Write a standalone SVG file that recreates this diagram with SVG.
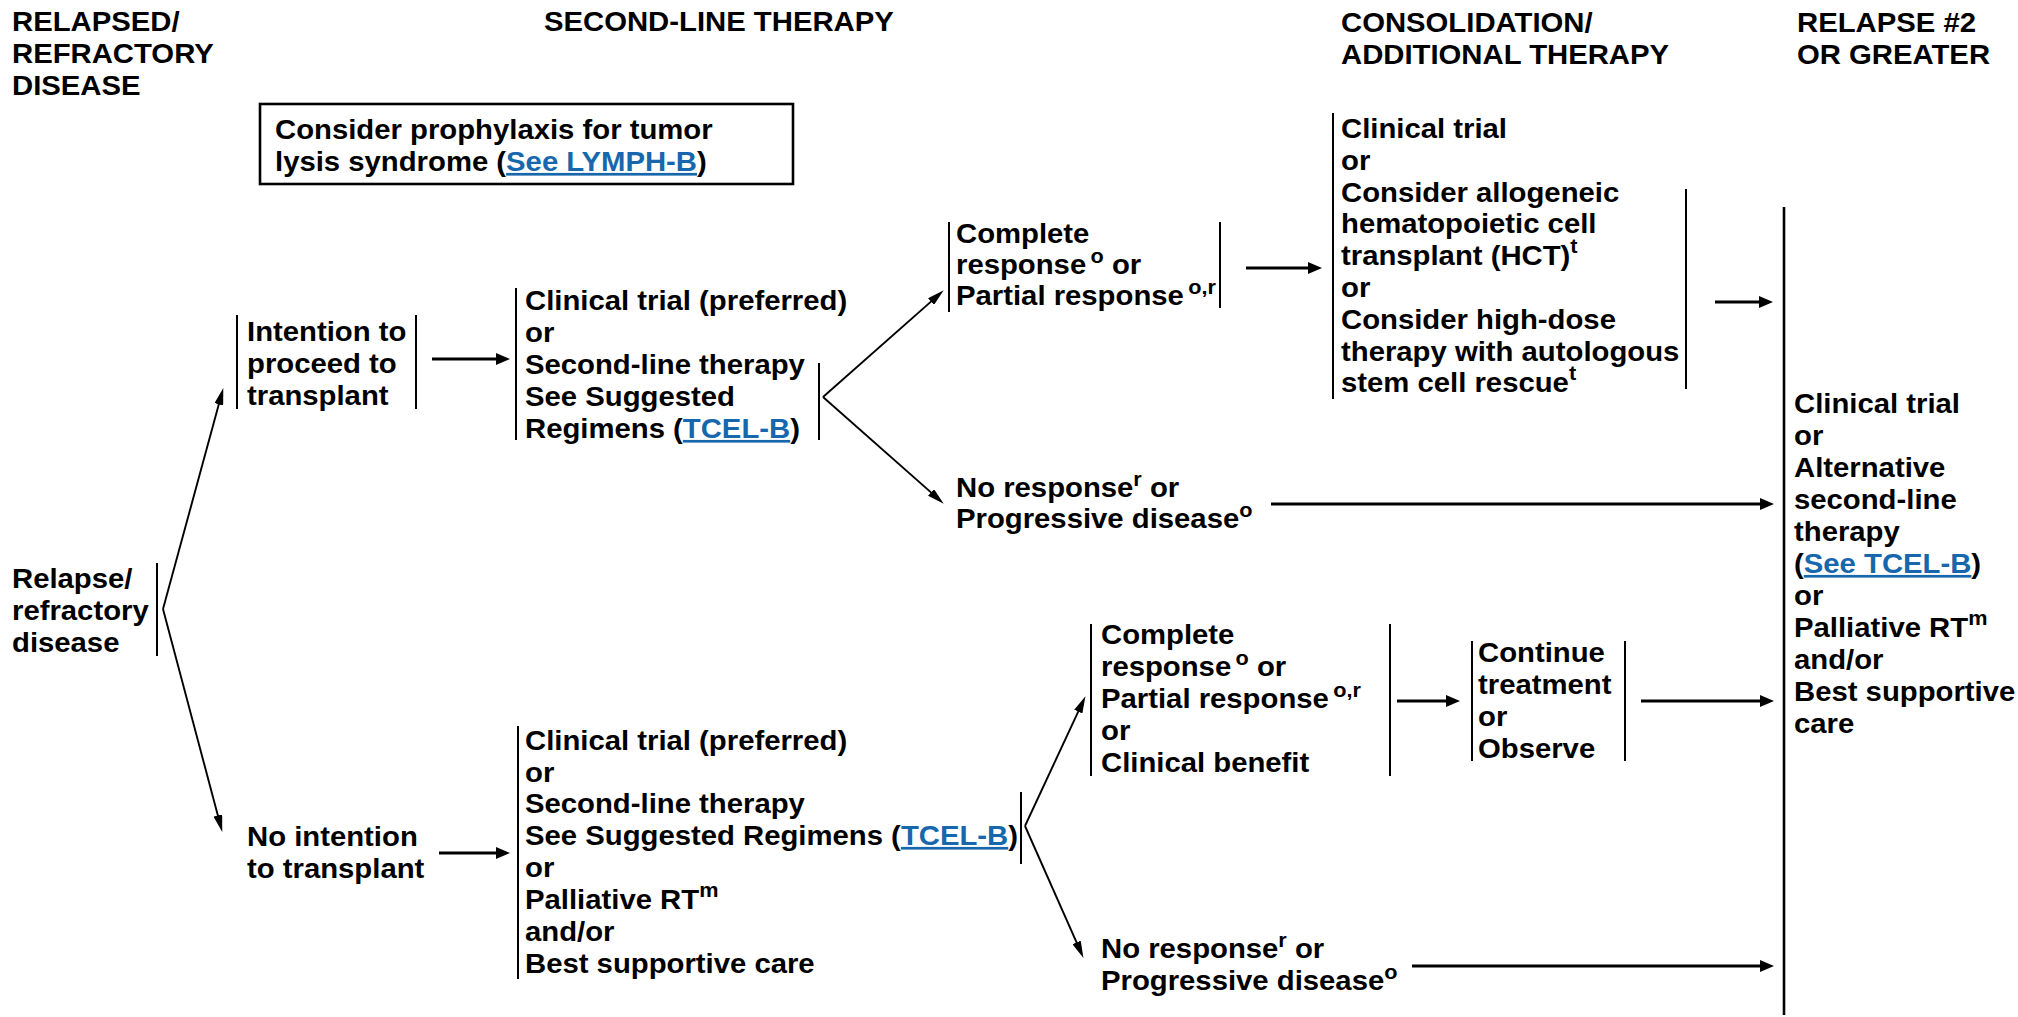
<svg xmlns="http://www.w3.org/2000/svg" width="2018" height="1017" viewBox="0 0 2018 1017">
<style>
text{font-family:"Liberation Sans",Arial,Helvetica,sans-serif;font-weight:bold;font-size:27px;fill:#000}
.sup{font-size:20px}
.lk{fill:#1767AC;text-decoration:underline}
.bar{stroke:#000;stroke-width:2;fill:none}
.bigbar{stroke:#000;stroke-width:2.6;fill:none}
.box{stroke:#000;stroke-width:2.6;fill:#fff}
.ah{stroke:#000;stroke-width:3;fill:none;marker-end:url(#mh)}
.ad{stroke:#000;stroke-width:1.9;fill:none;marker-end:url(#md)}
</style>
<defs>
<marker id="mh" markerUnits="userSpaceOnUse" markerWidth="14" markerHeight="12" refX="4" refY="6" orient="auto"><path d="M0,0 L14,6 L0,12 Z" fill="#000"/></marker>
<marker id="md" markerUnits="userSpaceOnUse" markerWidth="17" markerHeight="9" refX="6" refY="4.5" orient="auto"><path d="M0,0 L17,4.5 L0,9 Z" fill="#000"/></marker>
</defs>
<rect width="2018" height="1017" fill="#fff"/>

<g id="headers">
<text transform="translate(12 31) scale(1.085 1)"><tspan x="0" y="0">RELAPSED/</tspan><tspan x="0" y="32">REFRACTORY</tspan><tspan x="0" y="64">DISEASE</tspan></text>
<text transform="translate(544 31) scale(1.085 1)">SECOND-LINE THERAPY</text>
<text transform="translate(1341 32) scale(1.085 1)"><tspan x="0" y="0">CONSOLIDATION/</tspan><tspan x="0" y="32">ADDITIONAL THERAPY</tspan></text>
<text transform="translate(1797 32) scale(1.085 1)"><tspan x="0" y="0">RELAPSE #2</tspan><tspan x="0" y="32">OR GREATER</tspan></text>
</g>

<g id="n-tls">
<rect class="box" x="260" y="104" width="533" height="80"/>
<text transform="translate(275 139) scale(1.085 1)"><tspan x="0" y="0">Consider prophylaxis for tumor</tspan><tspan x="0" y="32">lysis syndrome (</tspan><tspan class="lk">See LYMPH-B</tspan><tspan>)</tspan></text>
</g>

<g id="n-relapse">
<line class="bar" x1="157" y1="563" x2="157" y2="656"/>
<text transform="translate(12 588) scale(1.085 1)"><tspan x="0" y="0">Relapse/</tspan><tspan x="0" y="32">refractory</tspan><tspan x="0" y="64">disease</tspan></text>
</g>

<g id="n-intent">
<line class="bar" x1="237" y1="315" x2="237" y2="409"/>
<line class="bar" x1="416" y1="315" x2="416" y2="409"/>
<text transform="translate(247 341) scale(1.085 1)"><tspan x="0" y="0">Intention to</tspan><tspan x="0" y="32">proceed to</tspan><tspan x="0" y="64">transplant</tspan></text>
</g>

<g id="n-noint">
<text transform="translate(247 846) scale(1.085 1)"><tspan x="0" y="0">No intention</tspan><tspan x="0" y="32">to transplant</tspan></text>
</g>

<g id="n-sl1">
<line class="bar" x1="516" y1="288" x2="516" y2="440"/>
<line class="bar" x1="819" y1="363" x2="819" y2="440"/>
<text transform="translate(525 310) scale(1.085 1)"><tspan x="0" y="0">Clinical trial (preferred)</tspan><tspan x="0" y="32">or</tspan><tspan x="0" y="64">Second-line therapy</tspan><tspan x="0" y="96">See Suggested</tspan><tspan x="0" y="128">Regimens (</tspan><tspan class="lk">TCEL-B</tspan><tspan>)</tspan></text>
</g>

<g id="n-sl2">
<line class="bar" x1="518" y1="726" x2="518" y2="979"/>
<line class="bar" x1="1021" y1="792" x2="1021" y2="864"/>
<text transform="translate(525 750) scale(1.085 1)"><tspan x="0" y="0">Clinical trial (preferred)</tspan><tspan x="0" y="32">or</tspan><tspan x="0" y="63">Second-line therapy</tspan><tspan x="0" y="95">See Suggested Regimens (</tspan><tspan class="lk">TCEL-B</tspan><tspan>)</tspan><tspan x="0" y="127">or</tspan><tspan x="0" y="159">Palliative RT</tspan><tspan class="sup" y="147">m</tspan><tspan x="0" y="191">and/or</tspan><tspan x="0" y="223">Best supportive care</tspan></text>
</g>

<g id="n-cr1">
<line class="bar" x1="949" y1="222" x2="949" y2="312"/>
<line class="bar" x1="1220" y1="222" x2="1220" y2="308"/>
<text transform="translate(956 243) scale(1.085 1)"><tspan x="0" y="0">Complete</tspan><tspan x="0" y="31">response</tspan><tspan class="sup" dx="4" y="20">o</tspan><tspan y="31"> or</tspan><tspan x="0" y="62">Partial response</tspan><tspan class="sup" dx="4" y="51">o,r</tspan></text>
</g>

<g id="n-nr1">
<text transform="translate(956 497) scale(1.085 1)"><tspan x="0" y="0">No response</tspan><tspan class="sup" y="-11">r</tspan><tspan y="0"> or</tspan><tspan x="0" y="31">Progressive disease</tspan><tspan class="sup" y="20">o</tspan></text>
</g>

<g id="n-consol">
<line class="bar" x1="1333" y1="113" x2="1333" y2="399"/>
<line class="bar" x1="1686" y1="189" x2="1686" y2="389"/>
<text transform="translate(1341 138) scale(1.085 1)"><tspan x="0" y="0">Clinical trial</tspan><tspan x="0" y="32">or</tspan><tspan x="0" y="64">Consider allogeneic</tspan><tspan x="0" y="95">hematopoietic cell</tspan><tspan x="0" y="127">transplant (HCT)</tspan><tspan class="sup" y="115">t</tspan><tspan x="0" y="159">or</tspan><tspan x="0" y="191">Consider high-dose</tspan><tspan x="0" y="223">therapy with autologous</tspan><tspan x="0" y="254">stem cell rescue</tspan><tspan class="sup" y="242">t</tspan></text>
</g>

<g id="n-cr2">
<line class="bar" x1="1091" y1="624" x2="1091" y2="776"/>
<line class="bar" x1="1390" y1="624" x2="1390" y2="776"/>
<text transform="translate(1101 644) scale(1.085 1)"><tspan x="0" y="0">Complete</tspan><tspan x="0" y="32">response</tspan><tspan class="sup" dx="4" y="21">o</tspan><tspan y="32"> or</tspan><tspan x="0" y="64">Partial response</tspan><tspan class="sup" dx="4" y="53">o,r</tspan><tspan x="0" y="96">or</tspan><tspan x="0" y="128">Clinical benefit</tspan></text>
</g>

<g id="n-cont">
<line class="bar" x1="1472" y1="641" x2="1472" y2="761"/>
<line class="bar" x1="1625" y1="641" x2="1625" y2="761"/>
<text transform="translate(1478 662) scale(1.085 1)"><tspan x="0" y="0">Continue</tspan><tspan x="0" y="32">treatment</tspan><tspan x="0" y="64">or</tspan><tspan x="0" y="96">Observe</tspan></text>
</g>

<g id="n-nr2">
<text transform="translate(1101 958) scale(1.085 1)"><tspan x="0" y="0">No response</tspan><tspan class="sup" y="-11">r</tspan><tspan y="0"> or</tspan><tspan x="0" y="32">Progressive disease</tspan><tspan class="sup" y="21">o</tspan></text>
</g>

<g id="n-final">
<line class="bigbar" x1="1784" y1="207" x2="1784" y2="1015"/>
<text transform="translate(1794 413) scale(1.085 1)"><tspan x="0" y="0">Clinical trial</tspan><tspan x="0" y="32">or</tspan><tspan x="0" y="64">Alternative</tspan><tspan x="0" y="96">second-line</tspan><tspan x="0" y="128">therapy</tspan><tspan x="0" y="160">(</tspan><tspan class="lk">See TCEL-B</tspan><tspan>)</tspan><tspan x="0" y="192">or</tspan><tspan x="0" y="224">Palliative RT</tspan><tspan class="sup" y="212">m</tspan><tspan x="0" y="256">and/or</tspan><tspan x="0" y="288">Best supportive</tspan><tspan x="0" y="320">care</tspan></text>
</g>

<g id="connectors">
<line class="ad" x1="163" y1="609" x2="220.4" y2="398.6"/>
<line class="ad" x1="163" y1="609" x2="219.4" y2="821.3"/>
<line class="ah" x1="432" y1="359" x2="500" y2="359"/>
<line class="ah" x1="439" y1="853" x2="500" y2="853"/>
<line class="ad" x1="823" y1="397" x2="935.5" y2="297.6"/>
<line class="ad" x1="823" y1="397" x2="935.5" y2="496.4"/>
<line class="ad" x1="1025" y1="826" x2="1080.8" y2="706.1"/>
<line class="ad" x1="1025" y1="826" x2="1079" y2="947.9"/>
<line class="ah" x1="1246" y1="268" x2="1312" y2="268"/>
<line class="ah" x1="1715" y1="302" x2="1763" y2="302"/>
<line class="ah" x1="1271" y1="504" x2="1764" y2="504"/>
<line class="ah" x1="1397" y1="701" x2="1450" y2="701"/>
<line class="ah" x1="1641" y1="701" x2="1764" y2="701"/>
<line class="ah" x1="1412" y1="966" x2="1764" y2="966"/>
</g>
</svg>
